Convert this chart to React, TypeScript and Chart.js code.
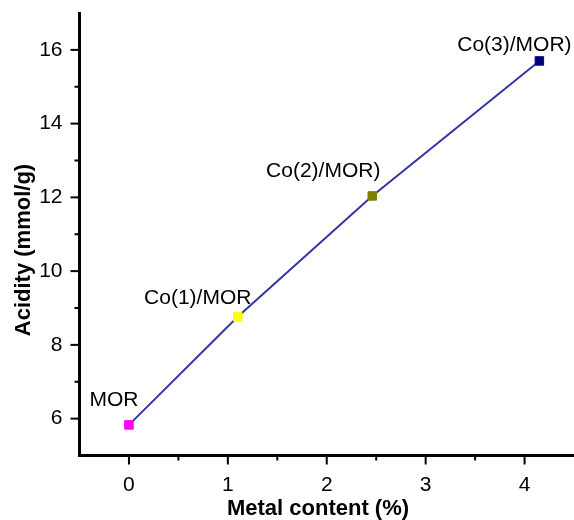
import React, { useEffect, useRef } from 'react';
import { Chart, registerables } from 'chart.js';

Chart.register(...registerables);

// ---- data ----
const sampleNames = ['MOR', 'Co(1)/MOR', 'Co(2)/MOR)', 'Co(3)/MOR)'];
const metalContent = [0, 1.1, 2.46, 4.15];
const acidity = [5.83, 8.76, 12.04, 15.7];
const pointColors = ['#ff00ff', '#ffff00', '#808000', '#000080'];
const xTitle = 'Metal content (%)';
const yTitle = 'Acidity (mmol/g)';
const xRange = [-0.5, 4.5];
const yRange = [5, 17];

// label placement relative to each point (style, not data)
const labelOffsets = [
  [-15, -25],
  [-40, -19],
  [-49, -25],
  [-25, -16],
];

const FONT = '"Liberation Sans", Arial, sans-serif';

const customDraw = {
  id: 'customDraw',
  afterDraw(chart: any) {
    const ctx = chart.ctx;
    const xs = chart.scales.x;
    const ys = chart.scales.y;
    const area = chart.chartArea;
    ctx.save();
    ctx.strokeStyle = '#000';
    ctx.lineWidth = 2;
    // y ticks
    ys.ticks.forEach((t: any) => {
      const v = t.value;
      if (v <= yRange[0] || v >= yRange[1]) return;
      const p = ys.getPixelForValue(v);
      const major = Math.abs(v % 2) < 1e-9;
      ctx.beginPath();
      ctx.moveTo(area.left, p);
      ctx.lineTo(area.left - (major ? 9 : 5), p);
      ctx.stroke();
    });
    // x ticks
    xs.ticks.forEach((t: any) => {
      const v = t.value;
      if (v <= xRange[0] + 1e-9 || v >= xRange[1] - 1e-9) return;
      const p = xs.getPixelForValue(v);
      const major = Math.abs(v - Math.round(v)) < 1e-9;
      ctx.beginPath();
      ctx.moveTo(p, area.bottom);
      ctx.lineTo(p, area.bottom + (major ? 9 : 5));
      ctx.stroke();
    });

    // axis titles
    ctx.fillStyle = '#000';
    ctx.font = `bold 22px ${FONT}`;
    ctx.textAlign = 'center';
    ctx.textBaseline = 'middle';
    ctx.fillText(xTitle, 318, 509);
    ctx.save();
    ctx.translate(24, 250);
    ctx.rotate(-Math.PI / 2);
    ctx.fillText(yTitle, 0, 0);
    ctx.restore();

    // point labels
    ctx.font = `21px ${FONT}`;
    const meta = chart.getDatasetMeta(0);
    meta.data.forEach((pt: any, i: number) => {
      const [dx, dy] = labelOffsets[i];
      ctx.fillText(sampleNames[i], pt.x + dx, pt.y + dy);
    });
    ctx.restore();
  },
};

export default function App() {
  const canvasRef = useRef<HTMLCanvasElement | null>(null);

  useEffect(() => {
    const canvas = canvasRef.current;
    if (!canvas) return;
    const chart = new Chart(canvas, {
      type: 'scatter',
      data: {
        datasets: [
          {
            label: 'Acidity',
            data: metalContent.map((x, i) => ({ x, y: acidity[i] })),
            showLine: true,
            borderColor: '#3535a5',
            borderWidth: 2,
            pointStyle: 'rect',
            pointRadius: 6,
            pointBorderWidth: 1,
            pointBackgroundColor: pointColors,
            pointBorderColor: pointColors,
          },
        ],
      },
      options: {
        responsive: false,
        animation: false,
        layout: { autoPadding: false, padding: { top: 13, right: 0, left: 0, bottom: 0 } },
        plugins: {
          legend: { display: false },
          tooltip: { enabled: false },
          title: { display: false },
        },
        scales: {
          x: {
            type: 'linear',
            min: xRange[0],
            max: xRange[1],
            grid: { display: false, drawTicks: false },
            border: { display: true, color: '#000', width: 3 },
            ticks: {
              stepSize: 0.5,
              autoSkip: false,
              maxRotation: 0,
              padding: 17,
              color: '#000',
              font: { family: FONT, size: 21 },
              callback: (v: any) => (Number.isInteger(v) && v >= 0 ? String(v) : ''),
            },
            afterFit: (s: any) => {
              s.height = 64.5;
              s.paddingLeft = 0;
              s.paddingRight = 0;
            },
          },
          y: {
            type: 'linear',
            min: yRange[0],
            max: yRange[1],
            grid: { display: false, drawTicks: false },
            border: { display: true, color: '#000', width: 3 },
            ticks: {
              stepSize: 1,
              autoSkip: false,
              padding: 17,
              color: '#000',
              font: { family: FONT, size: 21 },
              callback: (v: any) => (v % 2 === 0 && v > yRange[0] && v < yRange[1] ? String(v) : ''),
            },
            afterFit: (s: any) => {
              s.width = 79.5;
              s.paddingTop = 0;
              s.paddingBottom = 0;
            },
          },
        },
      },
      plugins: [customDraw],
    });
    return () => chart.destroy();
  }, []);

  return (
    <div style={{ position: 'fixed', left: 0, top: 0, width: 574, height: 520, background: '#fff' }}>
      <canvas ref={canvasRef} width={574} height={520} style={{ width: 574, height: 520, display: 'block' }} />
    </div>
  );
}
